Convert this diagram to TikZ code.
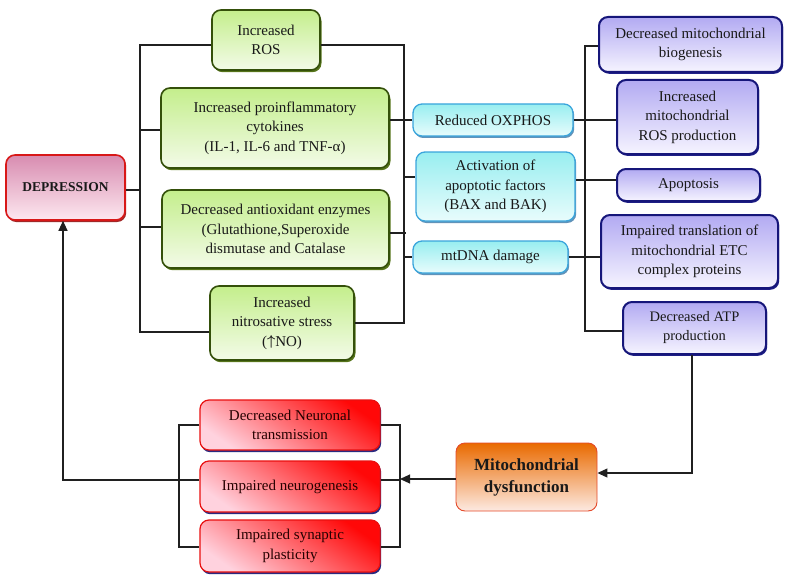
\documentclass[tikz,border=0pt]{standalone}
\usepackage{amsmath}
\usepackage{fontspec}
\setmainfont{Liberation Serif}
\usetikzlibrary{arrows.meta,shadows}
\definecolor{gTop}{HTML}{C4EE8C}
\definecolor{gBot}{HTML}{F3FBE8}
\definecolor{gBrd}{HTML}{34500A}
\definecolor{gSh}{HTML}{56741A}
\definecolor{cTop}{HTML}{98EEF0}
\definecolor{cBot}{HTML}{E8FCFC}
\definecolor{cBrd}{HTML}{3AA5DC}
\definecolor{cSh}{HTML}{3A78A8}
\definecolor{pTop}{HTML}{B2AAF2}
\definecolor{pBot}{HTML}{F6F4FF}
\definecolor{pBrd}{HTML}{16167A}
\definecolor{pSh}{HTML}{202088}
\definecolor{rTop}{HTML}{FF0808}
\definecolor{rBot}{HTML}{FFD2DE}
\definecolor{rBrd}{HTML}{E81010}
\definecolor{rSh}{HTML}{2A2A80}
\definecolor{dTop}{HTML}{D88CB0}
\definecolor{dBot}{HTML}{FDE8F0}
\definecolor{dBrd}{HTML}{D81818}
\definecolor{mTop}{HTML}{E96A00}
\definecolor{mBot}{HTML}{FDEAE2}
\definecolor{mBrd}{HTML}{E44A2A}
\definecolor{lineC}{HTML}{202020}
\tikzset{
  x=1pt,y=-1pt,
  every node/.style={font=\fontsize{15}{19.5}\selectfont, align=center, inner sep=0pt, text=black!90},
  basebox/.style={rounded corners=9pt, minimum width=#1},
  gbox/.style={basebox=10pt, draw=gBrd, line width=1.6pt, top color=gTop, bottom color=gBot,
     drop shadow={shadow xshift=1.5pt, shadow yshift=-2.2pt, fill=gSh, opacity=1}},
  cbox/.style={basebox=10pt, draw=cBrd, line width=1.3pt, top color=cTop, bottom color=cBot,
     drop shadow={shadow xshift=1.2pt, shadow yshift=-2pt, fill=cSh, opacity=0.8}},
  pbox/.style={basebox=10pt, draw=pBrd, line width=2pt, top color=pTop, bottom color=pBot,
     drop shadow={shadow xshift=1.2pt, shadow yshift=-1.8pt, fill=pSh, opacity=1}},
  rbox/.style={basebox=10pt, draw=rBrd, line width=1.2pt, top color=rTop, bottom color=rBot, shading angle=-35,
     drop shadow={shadow xshift=1.2pt, shadow yshift=-2.2pt, fill=rSh, opacity=1}, text=black!85!red},
  depbox/.style={basebox=10pt, draw=dBrd, line width=1.6pt, top color=dTop, bottom color=dBot,
     drop shadow={shadow xshift=1.2pt, shadow yshift=-2pt, fill=dBrd!70!black, opacity=0.9},
     font=\fontsize{13.5}{16}\selectfont\bfseries},
  mitobox/.style={basebox=10pt, draw=mBrd, line width=0.9pt, top color=mTop, bottom color=mBot,
     font=\fontsize{17}{22}\selectfont\bfseries},
  conn/.style={draw=lineC, line width=1.1pt},
  arr/.style={conn, -{Triangle[length=10pt,width=9pt]}},
}
\begin{document}
\begin{tikzpicture}
\useasboundingbox (0,0) rectangle (792,583);
% nodes
\node[depbox, minimum width=119pt, minimum height=65pt] (dep) at (65.5,187.5) {DEPRESSION};
\node[gbox, minimum width=108pt, minimum height=60pt] (ros) at (266,40) {Increased\\ROS};
\node[gbox, minimum width=228pt, minimum height=80pt] (cyt) at (275,128) {Increased proinflammatory\\cytokines\\(IL-1, IL-6 and TNF-α)};
\node[gbox, minimum width=227pt, minimum height=78pt] (anti) at (275.5,229) {Decreased antioxidant enzymes\\(Glutathione,Superoxide\\dismutase and Catalase};
\node[gbox, minimum width=144pt, minimum height=74pt] (nitro) at (282,323) {Increased\\nitrosative stress\\(\raisebox{1pt}{$\boldsymbol{\uparrow}$}NO)};
\node[cbox, minimum width=160pt, minimum height=32pt] (oxp) at (493,120) {Reduced OXPHOS};
\node[cbox, minimum width=159pt, minimum height=69pt] (apo) at (495.5,186.5) {Activation of\\apoptotic factors\\(BAX and BAK)};
\node[cbox, minimum width=155pt, minimum height=32pt] (mt) at (490.5,257) {mtDNA damage};
\node[pbox, minimum width=183pt, minimum height=55pt] (bio) at (690.5,44.5) {Decreased mitochondrial\\biogenesis};
\node[pbox, minimum width=141pt, minimum height=74pt] (mros) at (687.5,117) {Increased\\mitochondrial\\ROS production};
\node[pbox, minimum width=143pt, minimum height=32pt] (apt) at (688.5,185) {Apoptosis};
\node[pbox, minimum width=177pt, minimum height=73pt] (etc) at (689.5,251.5) {Impaired translation of\\mitochondrial ETC\\complex proteins};
\node[pbox, minimum width=143pt, minimum height=52pt, font=\fontsize{14.5}{19}\selectfont] (atp) at (694.5,328) {Decreased ATP\\production};
\node[mitobox, minimum width=141pt, minimum height=68pt] (mito) at (526.5,477) {Mitochondrial\\dysfunction};
\node[rbox, minimum width=180pt, minimum height=50pt] (neu) at (290,425) {Decreased Neuronal\\transmission};
\node[rbox, minimum width=180pt, minimum height=51pt] (neurog) at (290,486.5) {Impaired neurogenesis};
\node[rbox, minimum width=180pt, minimum height=52pt] (syn) at (290,546) {Impaired synaptic\\plasticity};
% left green bracket
\draw[conn] (dep.east |- 0,190) -- (140,190);
\draw[conn] (ros.west |- 0,45) -- (140,45) -- (140,332) -- (nitro.west |- 0,332);
\draw[conn] (140,130) -- (cyt.west |- 0,130);
\draw[conn] (140,227) -- (anti.west |- 0,227);
% right green bracket
\draw[conn] (ros.east |- 0,45) -- (404,45) -- (404,323) -- (nitro.east |- 0,323);
\draw[conn] (cyt.east |- 0,120) -- (oxp.west |- 0,120);
\draw[conn] (anti.east |- 0,233) -- (406,233);
\draw[conn] (404,177) -- (apo.west |- 0,177);
\draw[conn] (404,257) -- (mt.west);
% right purple bracket
\draw[conn] (bio.west |- 0,46) -- (585,46) -- (585,331) -- (atp.west |- 0,331);
\draw[conn] (oxp.east) -- (mros.west |- 0,120);
\draw[conn] (apo.east |- 0,180) -- (apt.west |- 0,180);
\draw[conn] (mt.east) -- (etc.west |- 0,257);
% ATP to mito
\draw[arr] (atp.south -| 692,0) -- (692,473) -- (mito.east |- 0,473);
% mito to red bracket
\draw[arr] (mito.west |- 0,479) -- (400,479);
% red brackets
\draw[conn] (neu.east |- 0,425) -- (400,425) -- (400,547) -- (syn.east |- 0,547);
\draw[conn] (neurog.east |- 0,480) -- (400,480);
\draw[conn] (neu.west |- 0,425) -- (179,425) -- (179,547) -- (syn.west |- 0,547);
\draw[conn] (neurog.west |- 0,480) -- (179,480);
\draw[arr] (179,480) -- (63,480) -- (dep.south -| 63,0);
\end{tikzpicture}
\end{document}
